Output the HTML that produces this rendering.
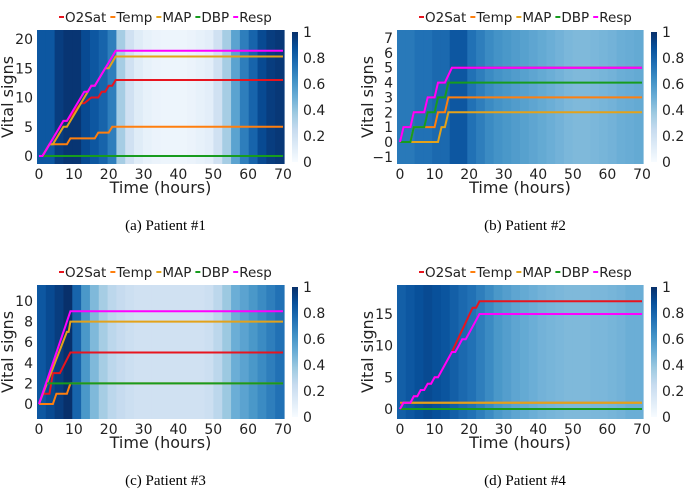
<!DOCTYPE html>
<html><head><meta charset="utf-8"><style>
body{margin:0;background:#fff;width:688px;height:491px;overflow:hidden}
svg text{font-family:"DejaVu Sans","Liberation Sans",sans-serif}
.cap{font-family:"Liberation Serif",serif;font-size:15px}
</style></head><body>
<svg id="fig" width="688" height="491" xmlns="http://www.w3.org/2000/svg"></svg>
<script>
// ---- data ----
const heat1=[0.85,0.85,0.95,0.98,0.98,0.9,0.85,0.8,0.7,0.35,0.2,0.12,0.08,0.06,0.05,0.05,0.05,0.06,0.08,0.1,0.2,0.35,0.55,0.7,0.8,0.9,0.95,0.97];
const heat2=[0.72,0.72,0.75,0.75,0.78,0.78,0.85,0.85,0.75,0.7,0.65,0.62,0.6,0.58,0.56,0.54,0.52,0.5,0.48,0.46,0.45,0.45,0.46,0.47,0.48,0.5,0.51,0.52];
const heat3=[0.85,0.9,0.95,1.0,0.8,0.6,0.45,0.35,0.28,0.25,0.22,0.2,0.2,0.2,0.2,0.2,0.2,0.2,0.2,0.22,0.28,0.38,0.5,0.55,0.6,0.65,0.7,0.75];
const heat4=[0.82,0.85,0.88,0.9,0.88,0.86,0.82,0.78,0.75,0.7,0.65,0.6,0.57,0.54,0.52,0.5,0.48,0.47,0.46,0.45,0.45,0.45,0.46,0.46,0.47,0.48,0.5,0.5];
const seriesNames=["O2Sat","Temp","MAP","DBP","Resp"];
const p1O2Sat=[[0,0],[1,0],[7,6],[8,6],[12,9],[13,9],[15,10],[17,10],[18,11],[19,11],[20,12],[21,12],[22,13],[70,13]];
const p1Temp=[[0,0],[1,0],[3,2],[8,2],[9,3],[16,3],[17,4],[20,4],[21,5],[70,5]];
const p1MAP=[[0,0],[1,0],[3,2],[4,2],[7,5],[8,5],[14,11],[15,12],[16,12],[19,15],[20,15],[22,17],[70,17]];
const p1DBP=[[0,0],[70,0]];
const p1Resp=[[0,0],[1,0],[7,6],[8,6],[13,11],[14,11],[15,12],[16,12],[22,18],[70,18]];
const p2O2Sat=[[0,0],[1,1],[3,1],[4,2],[7,2],[8,3],[10,3],[11,4],[13,4],[15,5],[70,5]];
const p2Temp=[[0,0],[3,0],[4,1],[10,1],[11,2],[13,2],[14,3],[70,3]];
const p2MAP=[[0,0],[11,0],[12,1],[13,1],[14,2],[70,2]];
const p2DBP=[[0,0],[3,0],[4,1],[7,1],[8,2],[10,2],[11,3],[13,3],[14,4],[70,4]];
const p2Resp=[[0,0],[1,1],[3,1],[4,2],[7,2],[8,3],[10,3],[11,4],[13,4],[15,5],[70,5]];
const p3O2Sat=[[0,0],[1,1],[3,1],[4,3],[6,3],[9,5],[70,5]];
const p3Temp=[[0,0],[4,0],[5,1],[8,1],[9,2],[70,2]];
const p3MAP=[[0,0],[8,7],[8.5,7],[9,8],[70,8]];
const p3DBP=[[2,2],[70,2]];
const p3Resp=[[0,0],[9,9],[70,9]];
const p4O2Sat=[[0,0],[1,1],[3,1],[4,2],[5,2],[6,3],[7,3],[8,4],[9,4],[10,5],[11,5],[15,9],[21,16],[22,16],[23,17],[70,17]];
const p4Temp=[[0,1],[70,1]];
const p4MAP=[[0,0],[1,1],[70,1]];
const p4DBP=[[0,0],[70,0]];
const p4Resp=[[0,0],[1,1],[3,1],[4,2],[5,2],[6,3],[7,3],[8,4],[9,4],[10,5],[11,5],[15,9],[16,9],[17,10],[18,11],[19,11],[23,15],[70,15]];
const xTicks=[0,10,20,30,40,50,60,70];
const yTicks1=[0,5,10,15,20], yTicks2=[-1,0,1,2,3,4,5,6,7], yTicks3=[0,2,4,6,8,10], yTicks4=[0,5,10,15];
const cbTicks=[0,0.2,0.4,0.6,0.8,1];
const captions=["(a)  Patient #1","(b)  Patient #2","(c)  Patient #3","(d)  Patient #4"];
// ---- drawing ----
const NS="http://www.w3.org/2000/svg", svg=document.getElementById('fig');
const colors={O2Sat:"#e8141e",Temp:"#ff7f0e",MAP:"#e3a21a",DBP:"#179c1e",Resp:"#ff00ff"};
function mk(t,a,p){const e=document.createElementNS(NS,t);for(const k in a)e.setAttribute(k,a[k]);(p||svg).appendChild(e);return e;}
const stops=[[0,[247,251,255]],[0.125,[222,235,247]],[0.25,[198,219,239]],[0.375,[158,202,225]],[0.5,[107,174,214]],[0.625,[66,146,198]],[0.75,[33,113,181]],[0.875,[8,81,156]],[1,[8,48,107]]];
function blues(v){v=Math.max(0,Math.min(1,v));for(let i=1;i<stops.length;i++){if(v<=stops[i][0]){const a=stops[i-1],b=stops[i],f=(v-a[0])/(b[0]-a[0]);return`rgb(${a[1].map((c,j)=>Math.round(c+(b[1][j]-c)*f)).join(',')})`;}}return"rgb(8,48,107)";}
const panels=[
 {ox:0,oy:0,x0:39,x1:283,yA:156,yB:39,vA:0,vB:20,heat:heat1,yt:yTicks1,s:[p1O2Sat,p1Temp,p1MAP,p1DBP,p1Resp],ax:37,aw:247},
 {ox:344,oy:0,x0:56,x1:298,yA:142,yB:38,vA:0,vB:7,heat:heat2,yt:yTicks2,s:[p2O2Sat,p2Temp,p2MAP,p2DBP,p2Resp],ax:53,aw:246},
 {ox:0,oy:255,x0:39,x1:283,yA:149,yB:46,vA:0,vB:10,heat:heat3,yt:yTicks3,s:[p3O2Sat,p3Temp,p3MAP,p3DBP,p3Resp],ax:37,aw:247},
 {ox:344,oy:255,x0:56,x1:298,yA:154,yB:59,vA:0,vB:15,heat:heat4,yt:yTicks4,s:[p4O2Sat,p4Temp,p4MAP,p4DBP,p4Resp],ax:53,aw:246}];
panels.forEach((P,pi)=>{
 const g=mk('g',{transform:`translate(${P.ox},${P.oy})`});
 
 
 const xs=t=>P.x0+(t/70)*(P.x1-P.x0), ys=v=>P.yA+(v-P.vA)*(P.yB-P.yA)/(P.vB-P.vA);
 const top=30,bot=164,cw=P.aw/P.heat.length;
 P.heat.forEach((v,i)=>{const r=mk('rect',{x:P.ax+i*cw,y:top,width:cw+0.6,height:bot-top,fill:blues(v)},g);
  
  });
 seriesNames.forEach((n,si)=>{const d=P.s[si];
  const pl=mk('polyline',{points:d.map(p=>xs(p[0]).toFixed(1)+','+ys(p[1]).toFixed(1)).join(' '),fill:'none',stroke:colors[n],'stroke-width':2},g);
  
  });
 xTicks.forEach(t=>{const tx=mk('text',{x:xs(t),y:bot+15,'font-size':14,'text-anchor':'middle',fill:'#222'},g);tx.textContent=t;
  
  });
 P.yt.forEach(t=>{const tx=mk('text',{x:P.ax-4,y:ys(t)+5,'font-size':14,'text-anchor':'end',fill:'#222'},g);tx.textContent=t<0?'\u2212'+(-t):t;
  
  });
 const xl=mk('text',{x:P.ax+P.aw/2,y:193,'font-size':16,'text-anchor':'middle',fill:'#222'},g);xl.textContent='Time (hours)';
 
 
 const yl=mk('text',{x:0,y:0,'font-size':16,'text-anchor':'middle',fill:'#222',transform:`translate(${P.ax-24},97) rotate(-90)`},g);yl.textContent='Vital signs';
 
 
 let lx=P.ax+22;
 seriesNames.forEach(n=>{const ln=mk('line',{x1:lx,y1:17,x2:lx+5,y2:17,stroke:colors[n],'stroke-width':2},g);
  
  
  const tx=mk('text',{x:lx+6,y:22,'font-size':13.5,fill:'#222'},g);tx.textContent=n;
  
  
  lx+=6+tx.getComputedTextLength()+4;});
 const cbx=P.ax+P.aw+8,cbt=32,cbb=162;
 const gid='cb'+pi;const lg=mk('linearGradient',{id:gid,x1:0,y1:1,x2:0,y2:0},g);
 stops.forEach(s=>mk('stop',{offset:s[0],'stop-color':`rgb(${s[1].join(',')})`},lg));
 const cb=mk('rect',{x:cbx,y:cbt,width:6,height:cbb-cbt,fill:`url(#${gid})`},g);
 
 
 cbTicks.forEach(t=>{const tx=mk('text',{x:cbx+11,y:cbb-t*(cbb-cbt)+5,'font-size':14,fill:'#222'},g);tx.textContent=t;
  
  });
 const cp=mk('text',{x:P.ax+P.aw/2+5,y:230,'text-anchor':'middle',class:'cap',fill:'#000'},g);cp.textContent=captions[pi];
 
 
});
</script>
</body></html>
